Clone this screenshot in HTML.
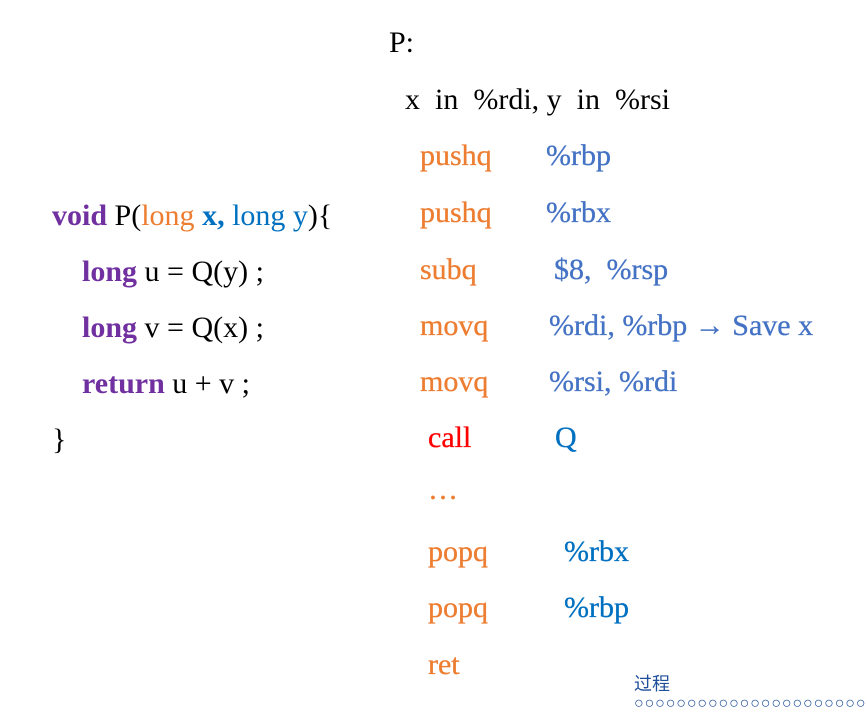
<!DOCTYPE html>
<html><head><meta charset="utf-8"><style>
body{margin:0;width:867px;height:713px;background:#fff;position:relative;overflow:hidden;font-family:"Liberation Serif",serif;font-size:30px}
div.t{position:absolute;line-height:30px;white-space:pre}
.o{color:#ED7D31;-webkit-text-stroke:0.3px #ED7D31}
.b{color:#4472C4;-webkit-text-stroke:0.3px #4472C4}
.c{color:#0070C0;-webkit-text-stroke:0.3px #0070C0}
.p{color:#7030A0;font-weight:bold}
.r{color:#FF0000;-webkit-text-stroke:0.3px #FF0000}
</style></head><body>
<div class="t" style="left:389px;top:28px">P:</div>
<div class="t" style="left:405px;top:85px">x  in  %rdi, y  in  %rsi</div>
<div class="t o" style="left:420px;top:141px">pushq</div><div class="t b" style="left:546px;top:141px">%rbp</div>
<div class="t o" style="left:420px;top:198px">pushq</div><div class="t b" style="left:546px;top:198px">%rbx</div>
<div class="t o" style="left:420px;top:255px">subq</div><div class="t b" style="left:554px;top:255px">$8,  %rsp</div>
<div class="t o" style="left:420px;top:311px">movq</div><div class="t b" style="left:549px;top:311px">%rdi, %rbp → Save x</div>
<div class="t o" style="left:420px;top:367px">movq</div><div class="t b" style="left:549px;top:367px">%rsi, %rdi</div>
<div class="t r" style="left:428px;top:423px">call</div><div class="t c" style="left:555px;top:423px">Q</div>
<div class="t o" style="left:428px;top:475px">…</div>
<div class="t o" style="left:428px;top:537px">popq</div><div class="t c" style="left:564px;top:537px">%rbx</div>
<div class="t o" style="left:428px;top:593px">popq</div><div class="t c" style="left:564px;top:593px">%rbp</div>
<div class="t o" style="left:428px;top:650px">ret</div>
<div class="t" style="left:52px;top:201px"><span class="p">void</span> P(<span style="color:#ED7D31">long</span> <span style="color:#0070C0;font-weight:bold">x,</span> <span style="color:#0070C0">long y</span>){</div>
<div class="t" style="left:82px;top:257px"><span class="p">long</span> u = Q(y) ;</div>
<div class="t" style="left:82px;top:313px"><span class="p">long</span> v = Q(x) ;</div>
<div class="t" style="left:82px;top:369px"><span class="p">return</span> u + v ;</div>
<div class="t" style="left:52px;top:425px">}</div>
<div class="t" style="left:634px;top:672px;font-family:'Liberation Sans','Noto Sans CJK SC',sans-serif;font-size:18px;line-height:24px;color:#1F4E9A">过程</div>
<div class="t" style="left:634px;top:694px;font-family:'Liberation Sans',sans-serif;font-size:16px;line-height:20px;color:#1F4E9A;letter-spacing:0.9px">○○○○○○○○○○○○○○○○○○○○○○</div>
</body></html>
